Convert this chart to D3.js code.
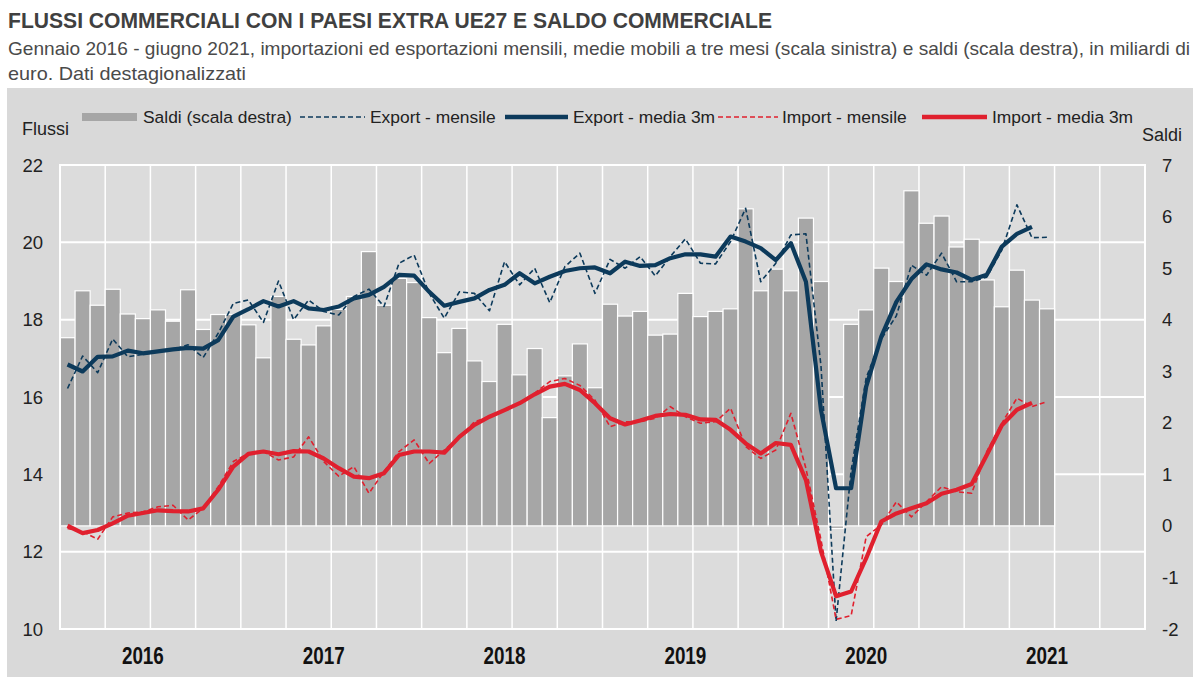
<!DOCTYPE html>
<html><head><meta charset="utf-8">
<script src="https://cdn.jsdelivr.net/npm/d3@7"></script>
<style>
body{margin:0;background:#fff;}
svg text{font-family:"Liberation Sans",Arial,Helvetica,sans-serif;}
</style></head>
<body><svg id="c" width="1200" height="685"></svg>
<script>
// ---- DATA ----
const startMonth = new Date(2016, 0, 1);
const endMonth = new Date(2022, 0, 1);
const yearLabels = ["2016","2017","2018","2019","2020","2021"];
const leftTicks = [10,12,14,16,18,20,22];
const rightTicks = [-2,-1,0,1,2,3,4,5,6,7];

const saldi = [3.65,4.56,4.28,4.59,4.11,4.02,4.19,3.97,4.58,3.81,4.10,4.10,
  3.90,3.26,4.45,3.62,3.51,3.88,4.20,4.45,5.32,4.28,4.80,4.72,
  4.04,3.36,3.83,3.20,2.80,3.91,2.93,3.44,2.10,2.91,3.53,2.68,
  4.30,4.07,4.16,3.70,3.72,4.51,4.06,4.16,4.21,6.15,4.56,4.98,
  4.56,5.97,4.74,-0.05,3.91,4.19,5.00,4.74,6.50,5.87,6.01,5.41,
  5.56,4.77,4.25,4.96,4.38,4.21];

const exportMensile = [16.22,17.06,16.63,17.50,17.04,17.10,17.17,17.22,17.35,17.02,17.65,18.42,
  18.51,17.93,19.00,18.00,18.51,18.21,18.12,18.60,18.79,18.34,19.46,19.67,
  18.68,18.04,18.72,18.68,18.23,19.50,18.90,19.33,18.44,19.37,19.72,18.68,
  19.56,19.33,19.63,19.13,19.63,20.09,19.46,19.44,20.02,20.88,18.98,19.46,
  20.19,20.22,16.80,10.20,14.10,16.50,17.50,18.10,19.41,19.15,19.72,18.98,
  18.98,19.10,19.80,20.97,20.12,20.13];

const exportMedia = [16.84,16.66,17.04,17.05,17.20,17.13,17.18,17.23,17.27,17.25,17.47,18.08,
  18.27,18.48,18.34,18.48,18.29,18.25,18.34,18.55,18.64,18.85,19.16,19.14,
  18.72,18.36,18.46,18.55,18.77,18.90,19.20,18.94,19.11,19.26,19.33,19.35,
  19.20,19.50,19.39,19.41,19.59,19.69,19.69,19.63,20.15,20.02,19.85,19.54,
  19.98,18.98,15.66,13.64,13.64,16.27,17.56,18.46,19.05,19.43,19.30,19.22,
  19.03,19.16,19.89,20.22,20.40];

const importMensile = [12.60,12.52,12.32,12.90,13.00,13.03,13.16,13.20,12.82,13.12,13.68,14.33,
  14.54,14.59,14.37,14.45,14.97,14.33,13.95,14.20,13.51,14.07,14.59,14.89,
  14.28,14.63,14.95,15.36,15.49,15.66,15.84,16.10,16.40,16.48,16.30,15.92,
  15.23,15.36,15.36,15.45,15.75,15.49,15.32,15.36,15.71,14.72,14.41,14.63,
  15.58,14.15,12.30,10.25,10.35,12.39,12.69,13.29,12.90,13.29,13.68,13.55,
  13.51,14.59,15.32,15.97,15.75,15.88];

const importMedia = [12.67,12.48,12.56,12.73,12.93,13.00,13.07,13.05,13.04,13.12,13.60,14.20,
  14.53,14.59,14.52,14.60,14.59,14.41,14.16,13.94,13.90,14.03,14.50,14.59,
  14.59,14.56,14.97,15.28,15.49,15.66,15.84,16.07,16.27,16.34,16.18,15.84,
  15.45,15.29,15.39,15.51,15.56,15.54,15.42,15.41,15.15,14.80,14.54,14.81,
  14.76,13.85,12.00,10.85,10.97,11.83,12.78,12.99,13.12,13.25,13.50,13.60,
  13.75,14.50,15.27,15.67,15.85];

// ---- STYLE ----
const NAVY = "#0c3a5b", RED = "#e0202e", BAR = "#a6a6a6", PANEL = "#d9d9d9";
const svg = d3.select("#c");
const M = {l:60, r:1145, t:165, b:629};

const months = d3.timeMonth.range(startMonth, endMonth);
const x = d3.scaleBand().domain(months).range([M.l, M.r]).padding(0);
const yL = d3.scaleLinear().domain([10,22]).range([M.b, M.t]);
const yR = d3.scaleLinear().domain([-2,7]).range([M.b, M.t]);
const cx = i => x(months[i]) + x.bandwidth()/2;

function fitText(t, w){ t.attr("textLength", w).attr("lengthAdjust","spacingAndGlyphs"); return t; }

// title
fitText(svg.append("text").attr("x",8).attr("y",28).attr("font-size",22).attr("font-weight","bold")
  .attr("fill","#404040").text("FLUSSI COMMERCIALI CON I PAESI EXTRA UE27 E SALDO COMMERCIALE"), 764);
fitText(svg.append("text").attr("x",8).attr("y",55).attr("font-size",18.5).attr("fill","#4a4a4a")
  .text("Gennaio 2016 - giugno 2021, importazioni ed esportazioni mensili, medie mobili a tre mesi (scala sinistra) e saldi (scala destra), in miliardi di"), 1182);
fitText(svg.append("text").attr("x",8).attr("y",80).attr("font-size",18.5).attr("fill","#4a4a4a")
  .text("euro. Dati destagionalizzati"), 238);

// panel
svg.append("rect").attr("x",7).attr("y",88).attr("width",1186).attr("height",589).attr("fill",PANEL);
svg.append("rect").attr("x",M.l).attr("y",M.t).attr("width",M.r-M.l).attr("height",M.b-M.t).attr("fill","#dcdcdc");

// grid
svg.append("g").selectAll("line").data(leftTicks).join("line")
  .attr("x1",M.l).attr("x2",M.r).attr("y1",d=>yL(d)).attr("y2",d=>yL(d))
  .attr("stroke","#fff").attr("stroke-width",2);
const qIdx = d3.range(0, months.length+1, 3);
svg.append("g").selectAll("line").data(qIdx).join("line")
  .attr("x1",i=> i<months.length ? x(months[i]) : M.r).attr("x2",i=> i<months.length ? x(months[i]) : M.r)
  .attr("y1",M.t).attr("y2",M.b).attr("stroke","#fff").attr("stroke-width",1.5);

// bars
svg.append("g").selectAll("rect").data(saldi).join("rect")
  .attr("x",(d,i)=>x(months[i])).attr("width",x.bandwidth())
  .attr("y",d=>Math.min(yR(d),yR(0))).attr("height",d=>Math.abs(yR(d)-yR(0)))
  .attr("fill",BAR).attr("stroke","#fff").attr("stroke-width",1.2);

// frame
svg.append("rect").attr("x",M.l).attr("y",M.t).attr("width",M.r-M.l).attr("height",M.b-M.t)
  .attr("fill","none").attr("stroke","#fff").attr("stroke-width",2);

// lines
const line = (ys) => d3.line().x((d,i)=>cx(i)).y(d=>ys(d));
function drawLine(data, color, w, dash){
  svg.append("path").datum(data).attr("d",line(yL)).attr("fill","none")
    .attr("stroke",color).attr("stroke-width",w).attr("stroke-linejoin","round")
    .attr("stroke-dasharray",dash||null);
}
drawLine(exportMensile, NAVY, 1.6, "5,3");
drawLine(exportMedia, NAVY, 4.2);
drawLine(importMensile, RED, 1.6, "5,3");
drawLine(importMedia, RED, 4.2);

// axes labels
svg.append("g").selectAll("text").data(leftTicks).join("text")
  .attr("x",43).attr("y",d=>yL(d)+6.5).attr("text-anchor","end").attr("font-size",18.5).attr("fill","#222").text(d=>d);
svg.append("g").selectAll("text").data(rightTicks).join("text")
  .attr("x",1162).attr("y",d=>yR(d)+6.5).attr("text-anchor","start").attr("font-size",18.5).attr("fill","#222").text(d=>d);
svg.append("g").selectAll("text").data(yearLabels).join("text")
  .attr("x",(d,i)=>cx(i*12+5)).attr("y",664).attr("text-anchor","middle").attr("font-size",23)
  .attr("font-weight","bold").attr("fill","#111")
  .attr("textLength",42).attr("lengthAdjust","spacingAndGlyphs").text(d=>d);
svg.append("text").attr("x",22).attr("y",135).attr("font-size",18).attr("fill","#222").text("Flussi");
svg.append("text").attr("x",1142).attr("y",141).attr("font-size",18).attr("fill","#222").text("Saldi");

// legend
const legend = [
  {label:"Saldi (scala destra)", type:"bar", x0:82, x1:137, tx:143},
  {label:"Export - mensile", type:"dash", color:NAVY, x0:300, x1:365, tx:370},
  {label:"Export - media 3m", type:"solid", color:NAVY, x0:505, x1:568, tx:573},
  {label:"Import - mensile", type:"dash", color:RED, x0:718, x1:778, tx:782},
  {label:"Import - media 3m", type:"solid", color:RED, x0:922, x1:987, tx:992}
];
const LY = 117;
legend.forEach(d=>{
  if(d.type==="bar") svg.append("rect").attr("x",d.x0).attr("y",LY-4).attr("width",d.x1-d.x0).attr("height",8).attr("fill",BAR);
  else svg.append("line").attr("x1",d.x0).attr("x2",d.x1).attr("y1",LY).attr("y2",LY).attr("stroke",d.color)
    .attr("stroke-width",d.type==="solid"?4.5:1.6).attr("stroke-dasharray",d.type==="dash"?"5,3":null);
  svg.append("text").attr("x",d.tx).attr("y",LY+6).attr("font-size",17.4).attr("fill","#222").text(d.label);
});
</script></body></html>
